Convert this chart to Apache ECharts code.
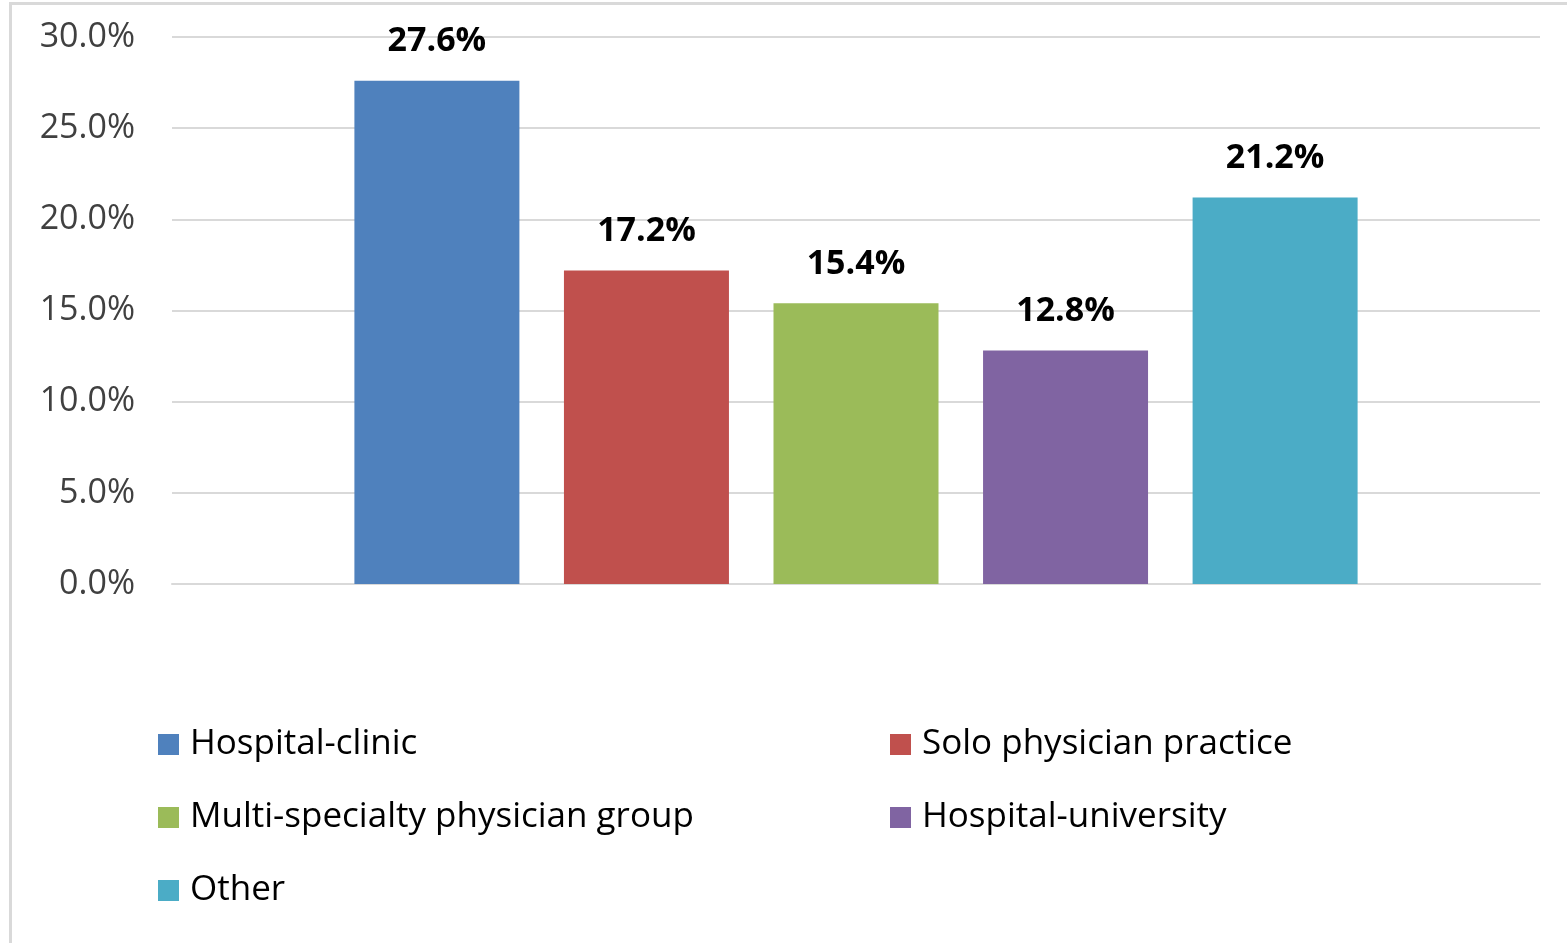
<!DOCTYPE html>
<html>
<head>
<meta charset="utf-8">
<script src="https://cdn.jsdelivr.net/npm/echarts@6/dist/echarts.min.js"></script>
<style>
  html, body { margin: 0; padding: 0; background: #fff; }
  #frame { position: absolute; left: 9px; top: 2px; width: 1558px; height: 941px;
           border-top: 3px solid #d9d9d9; border-left: 3px solid #d9d9d9; box-sizing: border-box; }
  #chart { position: absolute; left: 0; top: 0; width: 1567px; height: 943px; }
</style>
</head>
<body>
<div id="frame"></div>
<div id="chart"></div>
<script>
// 数据
const categories = ['']
const seriesNames = ['Hospital-clinic', 'Solo physician practice', 'Multi-specialty physician group', 'Hospital-university', 'Other']
const seriesValues = [27.6, 17.2, 15.4, 12.8, 21.2]
const seriesColors = ['#4f81bd', '#c0504d', '#9bbb59', '#8064a2', '#4bacc6']
const yTicks = { min: 0, max: 30, interval: 5 }

const font = '"Open Sans", "DejaVu Sans", sans-serif'
const chart = echarts.init(document.getElementById('chart'))

const series = seriesNames.map(function (name, i) {
    return {
        name: name,
        type: 'bar',
        data: [seriesValues[i]],
        barWidth: 165,
        barGap: '27%',
        itemStyle: { color: seriesColors[i] },
        label: {
            show: true,
            position: 'top',
            distance: 22,
            formatter: function (p) { return p.value.toFixed(1) + '%' },
            color: '#000',
            fontWeight: 'bold',
            fontSize: 34,
            fontFamily: font
        }
    }
})

const legendText = { fontSize: 35, color: '#000', fontFamily: font, lineHeight: 30, padding: [0, 0, 0, 6] }

const option = {
    animation: false,
    backgroundColor: 'transparent',
    grid: { left: 172, right: 27, top: 37, bottom: 359 },
    legend: [
        {
            data: [seriesNames[0], seriesNames[2], seriesNames[4]],
            orient: 'vertical',
            left: 153, top: 722,
            itemWidth: 21, itemHeight: 21, itemGap: 38,
            icon: 'rect',
            textStyle: legendText
        },
        {
            data: [seriesNames[1], seriesNames[3]],
            orient: 'vertical',
            left: 885, top: 722,
            itemWidth: 21, itemHeight: 21, itemGap: 38,
            icon: 'rect',
            textStyle: legendText
        }
    ],
    xAxis: {
        type: 'category',
        data: categories,
        axisLine: { show: true, lineStyle: { color: '#d9d9d9', width: 2 } },
        axisTick: { show: false },
        axisLabel: { show: false }
    },
    yAxis: {
        type: 'value',
        min: yTicks.min,
        max: yTicks.max,
        interval: yTicks.interval,
        axisLine: { show: false },
        axisTick: { show: false },
        splitLine: { lineStyle: { color: '#d9d9d9', width: 2 } },
        axisLabel: {
            margin: 37,
            color: '#404040',
            fontSize: 34,
            fontFamily: font,
            formatter: function (v) { return v.toFixed(1) + '%' }
        }
    },
    series: series
}
chart.setOption(option)
</script>
</body>
</html>
